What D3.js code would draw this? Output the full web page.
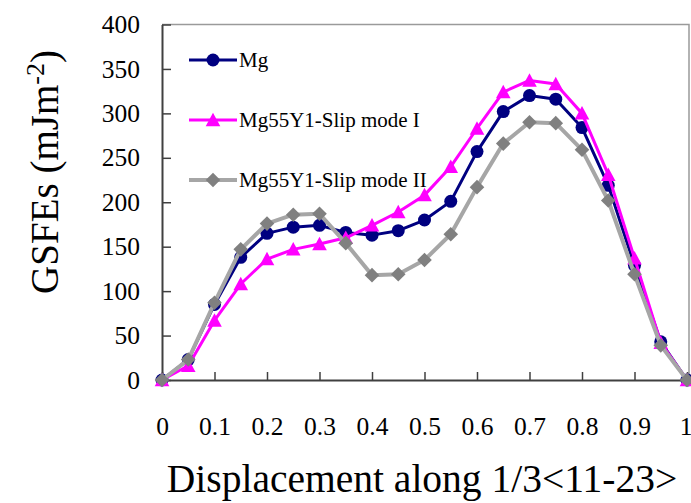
<!DOCTYPE html>
<html>
<head>
<meta charset="utf-8">
<script src="https://cdn.jsdelivr.net/npm/d3@7"></script>
<style>
  html, body { margin: 0; padding: 0; background: #fff; }
  svg { display: block; font-family: "Liberation Serif", "Times New Roman", serif; }
</style>
</head>
<body>
<svg id="chart" width="691" height="503"></svg>
<script>
const displacement = [0, 0.05, 0.1, 0.15, 0.2, 0.25, 0.3, 0.35, 0.4, 0.45, 0.5, 0.55, 0.6, 0.65, 0.7, 0.75, 0.8, 0.85, 0.9, 0.95, 1];
const mgValues = [0, 23, 85, 138, 165, 172, 174, 166, 163, 168, 180, 201, 257, 302, 320, 316, 284, 219, 129, 43, 0];
const slipModeIValues = [0, 16, 67, 108, 136, 147, 153, 160, 174, 189, 208, 240, 283, 324, 337, 333, 300, 231, 137, 42, 0];
const slipModeIIValues = [0, 23, 87, 147, 176, 186, 187, 154, 118, 119, 135, 164, 217, 266, 290, 289, 259, 202, 119, 39, 0];
const seriesNames = ["Mg", "Mg55Y1-Slip mode I", "Mg55Y1-Slip mode II"];
const xTicks = [0, 0.1, 0.2, 0.3, 0.4, 0.5, 0.6, 0.7, 0.8, 0.9, 1];
const yTicks = [0, 50, 100, 150, 200, 250, 300, 350, 400];

const series = [
  { name: seriesNames[0], values: mgValues, line: "#000080", marker: "#000080", shape: "circle", lw: 3 },
  { name: seriesNames[1], values: slipModeIValues, line: "#FF00FF", marker: "#FF00FF", shape: "triangle", lw: 3 },
  { name: seriesNames[2], values: slipModeIIValues, line: "#A6A6A6", marker: "#808080", shape: "diamond", lw: 4 }
];

const svg = d3.select("#chart");
const x = d3.scaleLinear().domain([0, 1]).range([162, 687]);
const y = d3.scaleLinear().domain([0, 400]).range([380, 24.5]);

// frame (top/right)
svg.append("path")
  .attr("d", `M${x(0)},${y(400)}H${x(1) + 2}V${y(0)}`)
  .attr("fill", "none").attr("stroke", "#9a9a9a").attr("stroke-width", 1.5);

// Y axis
const yAxis = d3.axisLeft(y).tickValues(yTicks).tickSizeInner(-9).tickSizeOuter(0).tickPadding(22);
const gy = svg.append("g").attr("transform", `translate(${x(0)},0)`).call(yAxis);
gy.select(".domain").attr("stroke", "#404040").attr("stroke-width", 2);
gy.selectAll(".tick line").attr("stroke", "#404040").attr("stroke-width", 1.5);
gy.selectAll(".tick text").attr("font-size", 25.5).attr("fill", "#000")
  .attr("font-family", "Liberation Serif, serif");

// X axis
const xAxis = d3.axisBottom(x).tickValues(xTicks).tickSizeInner(-8).tickSizeOuter(0).tickPadding(37)
  .tickFormat(d => d3.format("")(d));
const gx = svg.append("g").attr("transform", `translate(0,${y(0)})`).call(xAxis);
gx.select(".domain").attr("stroke", "#404040").attr("stroke-width", 2);
gx.selectAll(".tick line").attr("stroke", "#404040").attr("stroke-width", 1.5);
gx.selectAll(".tick text").attr("font-size", 25.5).attr("fill", "#000")
  .attr("font-family", "Liberation Serif, serif");
// keep the last label ("1") inside the picture
gx.selectAll(".tick text").filter(d => d === 1)
  .attr("text-anchor", "end").attr("dx", "5");

// Axis titles
svg.append("text")
  .attr("x", 422).attr("y", 492)
  .attr("text-anchor", "middle")
  .attr("font-size", 39.5)
  .text("Displacement along 1/3<11-23>");

const yt = svg.append("text")
  .attr("transform", "translate(58,172) rotate(-90)")
  .attr("text-anchor", "middle")
  .attr("font-size", 39);
yt.append("tspan").text("GSFEs (mJm");
yt.append("tspan").attr("baseline-shift", "super").attr("font-size", 26).text("-2");
yt.append("tspan").text(")");

// marker helper
function drawMarker(g, shape, cx, cy, color) {
  if (shape === "circle") {
    g.append("circle").attr("cx", cx).attr("cy", cy).attr("r", 6.5).attr("fill", color);
  } else if (shape === "triangle") {
    const s = 7.3;
    g.append("path").attr("d", `M${cx},${cy - s}L${cx + s},${cy + s * 0.85}L${cx - s},${cy + s * 0.85}Z`).attr("fill", color);
  } else {
    const s = 7.3;
    g.append("path").attr("d", `M${cx},${cy - s}L${cx + s},${cy}L${cx},${cy + s}L${cx - s},${cy}Z`).attr("fill", color);
  }
}

const line = d3.line().x((d, i) => x(displacement[i])).y(d => y(d));

series.forEach(s => {
  const g = svg.append("g");
  g.append("path").attr("d", line(s.values)).attr("fill", "none")
    .attr("stroke", s.line).attr("stroke-width", s.lw).attr("stroke-linejoin", "round");
  s.values.forEach((v, i) => drawMarker(g, s.shape, x(displacement[i]), y(v), s.marker));
});

// Legend
const legendY = [60, 120, 180];
series.forEach((s, i) => {
  const g = svg.append("g");
  const ly = legendY[i];
  g.append("line").attr("x1", 189).attr("x2", 237).attr("y1", ly).attr("y2", ly)
    .attr("stroke", s.line).attr("stroke-width", s.lw);
  drawMarker(g, s.shape, 213, ly, s.marker);
  g.append("text").attr("x", 239).attr("y", ly + 7).attr("font-size", 21).text(s.name);
});
</script>
</body>
</html>
